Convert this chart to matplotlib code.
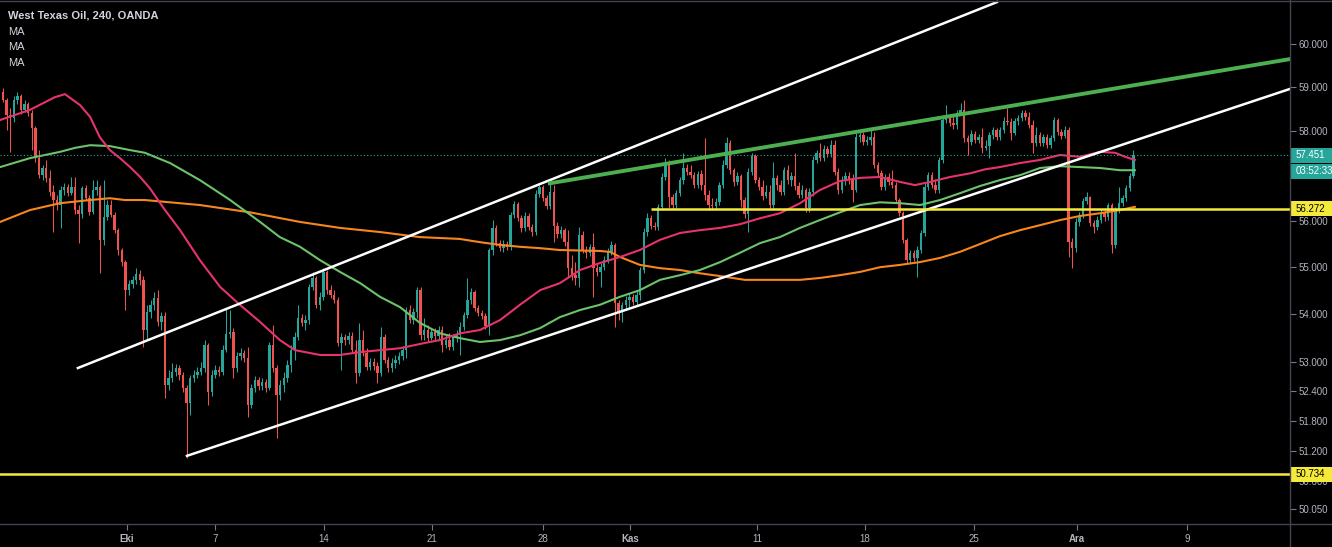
import matplotlib
matplotlib.use('Agg')
import matplotlib.pyplot as plt
import matplotlib.transforms as mtransforms
from matplotlib.patches import Rectangle
from matplotlib.lines import Line2D
from matplotlib.ticker import NullLocator
import numpy as np

plt.rcParams['font.family'] = ['Liberation Sans', 'DejaVu Sans']

W, H = 1332, 547

# 4h candles, WTI (OANDA); open = previous close
first_open = 58.89
closes = [
    58.70, 58.36, 58.30, 58.70, 58.79, 58.48, 58.61, 58.41, 58.07, 57.39,
    57.01, 57.17, 56.95, 56.64, 56.46, 56.35, 56.68, 56.75, 56.61, 56.75,
    56.24, 56.15, 56.72, 56.50, 56.19, 56.68, 56.75, 55.59, 56.09, 56.35,
    56.13, 55.80, 55.37, 55.11, 54.51, 54.64, 54.73, 54.85, 54.73, 53.67,
    54.05, 54.20, 54.34, 53.84, 53.96, 52.53, 52.67, 52.80, 52.88, 52.74,
    52.47, 52.16, 52.67, 52.74, 52.80, 52.88, 53.36, 52.39, 52.74, 52.84,
    52.80, 53.25, 53.58, 53.63, 52.88, 53.13, 53.19, 53.08, 52.12, 52.47,
    52.63, 52.51, 52.59, 52.47, 53.36, 52.88, 52.33, 52.53, 52.67, 52.94,
    53.25, 53.52, 53.92, 53.82, 53.88, 54.58, 54.77, 54.20, 54.37, 54.90,
    54.51, 54.41, 54.30, 53.40, 53.52, 53.46, 53.54, 53.25, 52.78, 53.46,
    53.19, 52.90, 53.00, 52.92, 52.78, 53.52, 53.04, 52.88, 52.98, 53.04,
    53.13, 53.25, 54.09, 53.88, 54.05, 54.51, 53.56, 53.67, 53.50, 53.63,
    53.54, 53.67, 53.36, 53.46, 53.32, 53.52, 53.56, 53.73, 53.98, 54.30,
    54.47, 54.13, 54.03, 53.96, 53.75, 55.37, 55.85, 55.52, 55.41, 55.50,
    55.44, 56.13, 56.37, 56.06, 55.85, 56.11, 55.87, 55.76, 56.59, 56.75,
    56.50, 56.33, 56.64, 55.89, 55.71, 55.80, 55.54, 54.98, 54.83, 54.77,
    55.69, 55.37, 55.31, 55.44, 54.98, 54.90, 55.00, 55.15, 55.33, 55.48,
    54.24, 54.05, 54.20, 54.30, 54.37, 54.26, 54.41, 54.94, 55.76, 56.06,
    55.89, 55.87, 56.31, 56.97, 57.28, 56.52, 56.35, 56.61, 56.90, 57.17,
    57.08, 57.01, 56.79, 57.03, 56.79, 56.57, 56.35, 56.33, 56.41, 56.79,
    57.24, 57.73, 57.12, 56.86, 56.99, 56.46, 56.15, 57.08, 57.44, 56.90,
    56.75, 56.55, 56.64, 56.35, 56.95, 56.79, 56.64, 57.12, 56.90, 56.99,
    56.77, 56.57, 56.68, 56.28, 56.64, 57.35, 57.51, 57.39, 57.60, 57.48,
    57.68, 57.08, 56.68, 56.90, 56.99, 56.90, 56.68, 57.86, 57.91, 57.75,
    57.80, 57.86, 57.24, 57.05, 56.75, 56.97, 56.86, 56.79, 56.46, 56.17,
    55.59, 55.15, 55.31, 55.20, 55.37, 55.74, 56.75, 57.01, 56.79, 56.68,
    57.35, 58.25, 58.32, 58.18, 58.13, 58.41, 58.48, 57.84, 57.75, 57.93,
    57.80, 57.86, 57.62, 57.66, 57.91, 58.02, 57.86, 58.02, 58.23, 58.20,
    57.96, 58.23, 58.30, 58.41, 58.32, 58.13, 57.73, 57.91, 57.73, 57.86,
    57.68, 57.84, 58.25, 57.98, 57.89, 58.02, 55.54, 55.41, 55.98, 56.13,
    56.44, 56.52, 55.96, 55.87, 56.02, 56.17, 56.09, 56.35, 55.48, 56.24,
    56.39, 56.50, 56.72, 56.99, 57.45,
]
highs = [
    58.98, 58.75, 58.52, 58.79, 58.89, 58.84, 58.70, 58.66, 58.48, 58.11,
    57.57, 57.24, 57.35, 57.12, 56.79, 56.57, 56.77, 56.84, 56.81, 56.97,
    56.97, 56.35, 56.77, 56.79, 56.57, 56.90, 56.90, 56.79, 56.90, 56.46,
    56.46, 56.19, 55.85, 55.41, 55.15, 54.73, 54.81, 54.98, 54.94, 54.81,
    54.20, 54.30, 54.47, 54.51, 54.05, 54.05, 52.84, 52.98, 52.96, 52.94,
    52.80, 52.53, 52.74, 52.84, 52.90, 53.00, 53.46, 53.40, 52.84, 52.94,
    52.92, 53.36, 54.13, 54.09, 53.71, 53.21, 53.29, 53.25, 53.32, 52.55,
    52.72, 52.70, 52.67, 52.65, 53.42, 53.77, 52.94, 52.63, 52.80, 53.04,
    53.36, 53.63, 54.20, 54.01, 53.98, 54.64, 54.90, 54.81, 54.47, 54.98,
    54.94, 54.62, 54.51, 54.37, 53.60, 53.58, 53.63, 53.63, 53.46, 53.82,
    53.67, 53.29, 53.08, 53.08, 53.00, 53.73, 53.58, 53.11, 53.08, 53.15,
    53.21, 53.34, 54.15, 54.20, 54.13, 54.58, 54.58, 53.92, 53.77, 53.71,
    53.71, 53.75, 53.75, 53.56, 53.60, 53.58, 53.67, 53.84, 54.05, 54.77,
    54.55, 54.51, 54.20, 54.09, 54.03, 55.41, 56.02, 55.91, 55.59, 55.59,
    55.57, 56.19, 56.44, 56.41, 56.13, 56.19, 56.17, 55.93, 56.68, 56.79,
    56.79, 56.57, 56.84, 56.79, 55.98, 55.89, 55.85, 55.80, 55.26, 55.11,
    55.87, 55.78, 55.46, 55.50, 55.74, 55.07, 55.09, 55.24, 55.41, 55.57,
    55.52, 54.30, 54.26, 54.39, 54.45, 54.43, 54.49, 55.00, 55.85, 56.17,
    56.13, 55.98, 56.37, 57.05, 57.39, 57.35, 56.59, 56.68, 56.97, 57.51,
    57.26, 57.24, 57.08, 57.10, 57.12, 57.84, 56.68, 56.50, 56.50, 56.86,
    57.35, 57.86, 57.80, 57.17, 57.08, 57.03, 56.52, 57.17, 57.51, 57.48,
    56.97, 56.90, 56.79, 56.79, 57.30, 57.01, 56.90, 57.19, 57.24, 57.08,
    57.51, 56.86, 56.79, 56.72, 56.72, 57.44, 57.57, 57.73, 57.68, 57.66,
    57.80, 57.80, 57.17, 56.99, 57.08, 57.08, 57.03, 57.95, 58.00, 57.98,
    57.89, 58.07, 57.98, 57.30, 57.12, 57.03, 57.05, 57.12, 56.86, 56.50,
    56.22, 55.63, 55.37, 55.37, 55.46, 55.80, 56.84, 57.08, 57.08, 56.93,
    57.42, 58.36, 58.59, 58.39, 58.36, 58.48, 58.63, 58.70, 57.91, 58.02,
    58.00, 57.93, 58.07, 57.80, 57.98, 58.09, 58.07, 58.09, 58.32, 58.52,
    58.30, 58.30, 58.36, 58.48, 58.48, 58.43, 58.25, 58.09, 57.98, 57.93,
    57.93, 57.91, 58.32, 58.30, 58.05, 58.11, 58.09, 55.63, 56.06, 56.19,
    56.50, 56.64, 56.55, 56.02, 56.11, 56.26, 56.24, 56.39, 56.39, 56.31,
    56.75, 56.57, 56.79, 57.05, 57.57,
]
lows = [
    58.66, 58.02, 57.53, 58.20, 58.61, 58.39, 58.43, 58.34, 57.57, 57.31,
    56.95, 56.90, 56.86, 56.55, 55.76, 56.24, 55.85, 56.57, 56.55, 56.57,
    56.15, 55.52, 56.06, 56.46, 56.13, 56.15, 56.57, 54.87, 55.48, 56.02,
    56.09, 55.74, 55.26, 55.03, 54.09, 54.41, 54.55, 54.64, 54.62, 53.32,
    53.46, 53.92, 54.09, 53.75, 53.67, 52.26, 52.43, 52.59, 52.72, 52.63,
    52.39, 51.05, 51.92, 52.59, 52.67, 52.74, 52.80, 52.12, 52.31, 52.67,
    52.72, 52.74, 53.21, 53.50, 52.67, 52.80, 53.04, 53.00, 51.88, 52.06,
    52.39, 52.43, 52.43, 52.39, 52.43, 52.80, 51.45, 52.22, 52.39, 52.59,
    52.80, 53.04, 53.46, 53.75, 53.67, 53.79, 54.51, 54.13, 54.09, 54.30,
    54.43, 54.34, 54.24, 53.34, 52.84, 53.36, 53.38, 53.19, 52.57, 52.72,
    53.13, 52.84, 52.84, 52.84, 52.57, 52.72, 52.98, 52.80, 52.80, 52.88,
    52.96, 53.04, 53.08, 53.82, 53.79, 53.92, 53.46, 53.46, 53.42, 53.46,
    53.46, 53.46, 53.21, 53.29, 53.25, 53.25, 53.42, 53.15, 53.67, 53.92,
    54.22, 54.07, 53.96, 53.90, 53.69, 53.56, 55.26, 55.46, 55.35, 55.33,
    55.37, 55.37, 56.06, 56.00, 55.76, 55.78, 55.80, 55.67, 55.69, 56.52,
    56.44, 56.26, 56.26, 55.54, 55.63, 55.63, 55.46, 54.79, 54.73, 54.62,
    54.58, 55.31, 55.20, 55.24, 54.37, 54.81, 54.58, 54.94, 55.09, 55.26,
    53.73, 53.88, 53.84, 54.09, 54.13, 54.20, 54.20, 54.30, 54.87, 55.67,
    55.82, 55.80, 55.80, 56.24, 56.90, 56.28, 56.26, 56.28, 56.55, 56.81,
    57.01, 56.95, 56.72, 56.72, 56.68, 56.46, 56.24, 56.24, 56.26, 56.35,
    56.72, 57.17, 57.03, 56.77, 56.79, 56.31, 56.06, 55.76, 57.01, 56.84,
    56.68, 56.46, 56.50, 56.28, 56.28, 56.68, 56.57, 56.57, 56.81, 56.77,
    56.68, 56.50, 56.50, 56.19, 56.19, 56.55, 57.28, 57.33, 57.33, 57.42,
    57.42, 57.01, 56.59, 56.61, 56.79, 56.81, 56.41, 56.64, 57.75, 57.68,
    57.68, 57.68, 57.17, 56.99, 56.68, 56.68, 56.79, 56.72, 56.39, 56.11,
    55.52, 55.09, 55.09, 55.13, 54.79, 55.31, 55.67, 56.68, 56.72, 56.61,
    56.61, 57.28, 58.18, 58.11, 58.05, 58.05, 58.36, 57.75, 57.46, 57.68,
    57.73, 57.73, 57.51, 57.57, 57.39, 57.82, 57.80, 57.80, 57.96, 58.13,
    57.80, 57.91, 58.13, 58.23, 58.25, 58.07, 57.51, 57.66, 57.66, 57.66,
    57.62, 57.62, 57.78, 57.91, 57.82, 57.84, 55.22, 54.98, 55.33, 55.89,
    56.06, 56.37, 55.89, 55.74, 55.80, 55.96, 56.00, 56.02, 55.31, 55.41,
    56.17, 56.33, 56.44, 56.66, 56.95,
]

# moving averages, sampled along the chart (bar index, price)
ma_red_x = [-0.8, 7.5, 14.4, 17.2, 21.4, 24.2, 26.9, 29.7, 32.5, 35.3, 38.1, 40.8,
            45.0, 49.2, 54.7, 60.3, 65.8, 71.4, 76.9, 81.1, 88.1, 93.6, 99.2, 104.7,
            110.3, 117.2, 121.4, 126.9, 132.5, 138.1, 143.6, 149.2, 154.7, 160.3,
            165.8, 171.4, 176.9, 182.5, 188.1, 193.6, 199.2, 204.7, 210.3, 215.8,
            221.4, 226.9, 232.5, 238.1, 243.6, 249.2, 253.3, 257.5, 263.1, 268.6,
            272.8, 276.9, 282.5, 288.1, 293.6, 299.2, 304.7, 308.9, 311.7, 314.4]
ma_red = [58.25, 58.48, 58.77, 58.84, 58.59, 58.32, 57.86, 57.57, 57.39, 57.19, 56.97, 56.72,
          56.24, 55.80, 55.15, 54.58, 54.20, 53.84, 53.46, 53.25, 53.15, 53.15, 53.21, 53.25,
          53.29, 53.40, 53.46, 53.60, 53.67, 53.88, 54.20, 54.51, 54.66, 54.94,
          55.09, 55.22, 55.37, 55.59, 55.74, 55.80, 55.85, 55.93, 56.06, 56.17,
          56.39, 56.68, 56.88, 56.95, 56.97, 56.86, 56.79, 56.86, 56.97, 57.05,
          57.14, 57.19, 57.28, 57.35, 57.46, 57.42, 57.53, 57.51, 57.42, 57.35]

ma_green_x = [-0.8, 7.5, 15.8, 20.0, 24.2, 29.7, 35.3, 39.4, 46.4, 54.7, 63.1, 71.4,
              76.9, 82.5, 88.1, 93.6, 99.2, 104.7, 110.3, 115.8, 121.4, 126.9, 132.5,
              138.1, 143.6, 149.2, 154.7, 160.3, 165.8, 171.4, 176.9, 182.5, 188.1,
              193.6, 199.2, 204.7, 210.3, 215.8, 221.4, 226.9, 232.5, 238.1, 243.6,
              249.2, 254.7, 260.3, 265.8, 271.4, 276.9, 282.5, 288.1, 293.6, 299.2,
              304.7, 310.3, 314.4]
ma_green = [57.19, 57.39, 57.53, 57.62, 57.68, 57.66, 57.57, 57.51, 57.28, 56.90, 56.46, 55.98,
            55.65, 55.44, 55.15, 54.90, 54.66, 54.37, 54.15, 53.82, 53.60, 53.50, 53.42,
            53.46, 53.56, 53.71, 53.94, 54.09, 54.20, 54.37, 54.51, 54.73, 54.83,
            54.94, 55.11, 55.31, 55.52, 55.65, 55.85, 56.02, 56.19, 56.35, 56.41,
            56.39, 56.35, 56.46, 56.61, 56.77, 56.90, 57.01, 57.17, 57.21, 57.19,
            57.17, 57.12, 57.12]

ma_orange_x = [-0.8, 7.5, 15.8, 24.2, 29.7, 33.9, 39.4, 54.7, 68.6, 82.5, 93.6, 104.7,
               115.8, 126.9, 132.5, 138.1, 143.6, 149.2, 154.7, 165.8, 168.6, 171.4,
               176.9, 182.5, 188.1, 193.6, 199.2, 206.1, 213.1, 221.4, 226.9, 232.5,
               238.1, 243.6, 249.2, 254.7, 260.3, 265.8, 271.4, 276.9, 282.5, 288.1,
               293.6, 299.2, 304.7, 310.3, 314.4]
ma_orange = [55.98, 56.24, 56.39, 56.46, 56.50, 56.46, 56.46, 56.35, 56.19, 55.98, 55.85, 55.76,
             55.65, 55.61, 55.54, 55.48, 55.44, 55.41, 55.37, 55.35, 55.33, 55.22,
             55.05, 54.98, 54.94, 54.87, 54.81, 54.73, 54.73, 54.73, 54.77, 54.83,
             54.90, 55.00, 55.05, 55.11, 55.20, 55.33, 55.50, 55.67, 55.80, 55.91,
             56.02, 56.11, 56.17, 56.24, 56.31]

# drawn lines: (bar index pair, price pair)
channel_top = ([20.8, 276.1], [52.88, 60.99])
channel_bottom = ([51.1, 357.5], [51.10, 58.96])
resistance = ([151.9, 357.5], [56.83, 59.65])
support_level = 56.272
support_from = 180.0
floor_level = 50.734
last_price = 57.451
countdown = '03:52:33'

date_pos = [34.4, 58.9, 89.2, 119.2, 150.0, 174.2, 209.4, 239.4, 269.7, 298.3, 328.9]
date_labels = ['Eki', '7', '14', '21', '28', 'Kas', '11', '18', '25', 'Ara', '9']
month_names = ['Eki', 'Kas', 'Ara']
# 57.000 sits under the countdown box in the reference, so it is left out
price_ticks = [50.05, 50.6, 51.2, 51.8, 52.4, 53, 54, 55, 56, 58, 59, 60]

UP = '#26a69a'
DOWN = '#ef5350'
TXT = '#b2b5be'
GRID = '#434651'
YELLOW = '#f5e93a'

x_min, x_max = -0.83, 357.5
y_min, y_max = 49.76, 61.04

fig = plt.figure(figsize=(W / 100, H / 100), dpi=100, facecolor='black')
ax = fig.add_axes([0, 23 / H, 1290 / W, 524 / H])
ax.set_facecolor('black')
ax.set_yscale('log')

o = np.array([first_open] + closes[:-1])
c = np.array(closes)
idx = np.arange(len(c))
cols = np.where(c >= o, UP, DOWN)
ax.vlines(idx, lows, highs, colors=cols, lw=0.75, zorder=2)
lo = np.minimum(o, c)
hi = np.maximum(o, c)
ax.bar(idx, np.maximum(hi - lo, 0.02), bottom=lo, width=0.62, color=cols,
       linewidth=0, zorder=2)

ax.plot(ma_orange_x, ma_orange, color='#f7861e', lw=1.5, zorder=3)
ax.plot(ma_green_x, ma_green, color='#6cc36b', lw=1.5, zorder=3)
ax.plot(ma_red_x, ma_red, color='#e6336b', lw=1.5, zorder=3)

ax.plot(*channel_top, color='white', lw=1.8, zorder=4)
ax.plot(*channel_bottom, color='white', lw=1.8, zorder=4)
ax.plot(*resistance, color='#4caf50', lw=2.8, zorder=4)
ax.hlines(support_level, support_from, x_max, color=YELLOW, lw=1.8, zorder=4)
ax.axhline(floor_level, color=YELLOW, lw=1.8, zorder=4)
ax.axhline(last_price, color=UP, lw=0.8, ls=(0, (1, 2)), zorder=3)

for s in ax.spines.values():
    s.set_visible(False)

ax.yaxis.tick_right()
ax.set_yticks(price_ticks)
ax.set_yticklabels([f'{p:.3f}' for p in price_ticks])
ax.yaxis.set_minor_locator(NullLocator())
ax.tick_params(axis='y', length=4, width=0.8, color='#787b86', labelcolor=TXT,
               labelsize=7, pad=2)
ax.set_xticks(date_pos)
ax.set_xticklabels(date_labels)
ax.tick_params(axis='x', length=4, width=0.8, color='#787b86', labelcolor=TXT,
               labelsize=7, pad=3)
for lab in ax.get_xticklabels():
    if lab.get_text() in month_names:
        lab.set_fontweight('bold')

# price boxes on the right scale
scale = 524 / np.log(y_max / y_min)
tr = mtransforms.blended_transform_factory(fig.transFigure, ax.transData)


def price_box(price, text, fc, tc, shift=0.0):
    yc = price * np.exp(-shift / scale)
    half = 7.5 / scale
    ax.add_patch(Rectangle((1290 / W, yc * np.exp(-half)), 42 / W,
                           yc * np.exp(half) - yc * np.exp(-half),
                           transform=tr, facecolor=fc, edgecolor='none',
                           clip_on=False, zorder=10))
    ax.text(1296 / W, yc, text, transform=tr, color=tc, fontsize=7,
            va='center', ha='left', zorder=11, clip_on=False)


price_box(last_price, f'{last_price:.3f}', UP, 'white')
price_box(last_price, countdown, UP, 'white', shift=16)
price_box(support_level, f'{support_level:.3f}', YELLOW, 'black')
price_box(floor_level, f'{floor_level:.3f}', YELLOW, 'black')

ax.set_xlim(x_min, x_max)
ax.set_ylim(y_min, y_max)

fig.add_artist(Line2D([0, 1], [23 / H, 23 / H], color=GRID, lw=1, transform=fig.transFigure))
fig.add_artist(Line2D([1290 / W, 1290 / W], [0, 1], color=GRID, lw=1, transform=fig.transFigure))
fig.add_artist(Line2D([0, 1], [1 - 0.5 / H, 1 - 0.5 / H], color=GRID, lw=1, transform=fig.transFigure))

fig.text(8 / W, 1 - 16 / H, 'West Texas Oil, 240, OANDA', color='#d1d4dc', fontsize=8,
         fontweight='bold', va='center', ha='left')
for k in range(3):
    fig.text(8 / W, 1 - (32 + 15.5 * k) / H, 'MA', color='#d1d4dc', fontsize=8,
             va='center', ha='left')

fig.savefig('out.png', dpi=100, facecolor='black')
